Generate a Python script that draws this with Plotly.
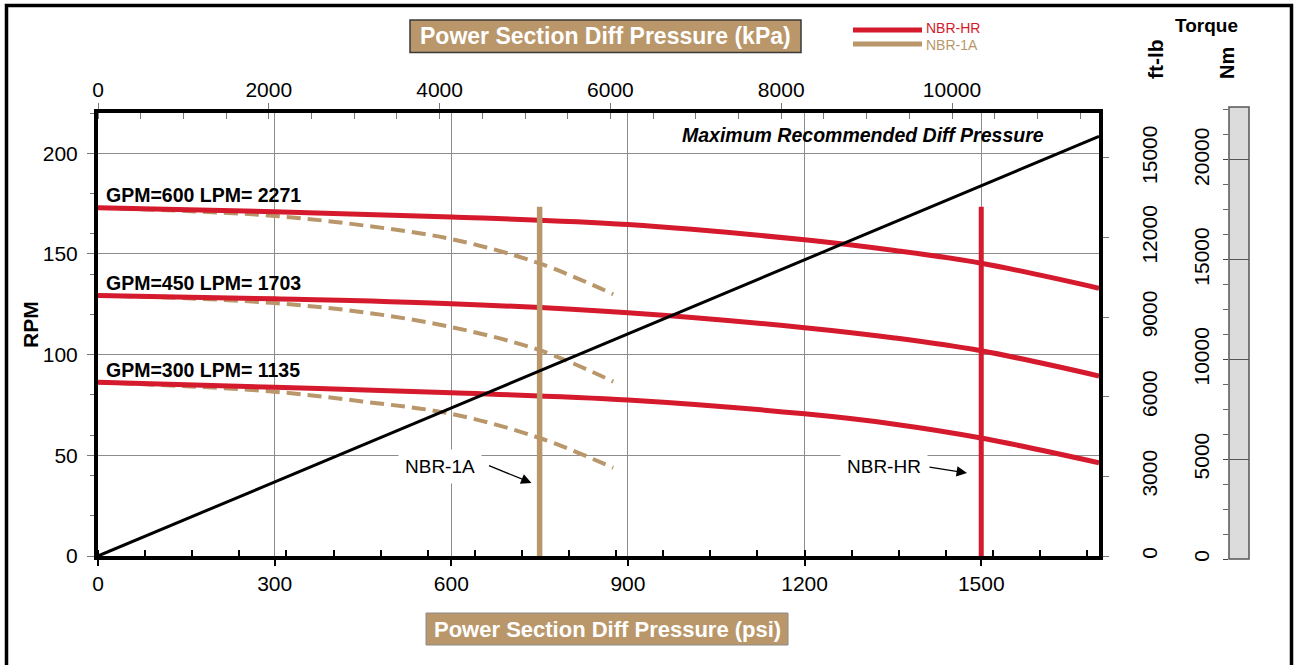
import plotly.graph_objects as go

W, H = 1296, 665

# ---------------- data ----------------
psi_hr = [0, 300, 600, 900, 1200, 1350, 1500, 1700]
rpm_hr_600 = [173.0, 171.0, 168.4, 164.6, 157.0, 151.8, 145.4, 133.0]
rpm_hr_450 = [129.4, 127.7, 125.3, 120.8, 113.4, 108.4, 101.9, 89.4]
rpm_hr_300 = [86.3, 83.8, 81.1, 77.5, 70.6, 65.6, 58.6, 46.3]

psi_1a = [0, 150, 300, 450, 600, 750, 875]
rpm_1a_600 = [173.0, 171.3, 168.9, 164.2, 157.4, 145.3, 130.0]
rpm_1a_450 = [129.4, 128.0, 125.6, 121.1, 113.7, 102.2, 86.6]
rpm_1a_300 = [86.3, 84.3, 81.6, 76.7, 70.6, 58.6, 43.8]

max_psi = [0, 1700]
max_rpm = [0, 208.4]

limit_1a_psi = 750
limit_hr_psi = 1500
limit_rpm = 173.5

flow_labels = ["GPM=600 LPM= 2271", "GPM=450 LPM= 1703", "GPM=300 LPM= 1135"]
flow_label_rpm = [179.5, 135.5, 92.5]

PSI_MAX = 1700
KPA_PER_PSI = 6.894757
RPM_MAX = 220
FTLB_MAX = 16690
NM_MAX = 22650

RED = "#D41A2C"
TAN = "#B9976A"
GRID = "#8C8C8C"
FONT = "Liberation Sans, Arial, sans-serif"


def px(x):
    return x / W


def py(y):
    return 1 - y / H


fig = go.Figure()

# dashed NBR-1A curves
for r in (rpm_1a_600, rpm_1a_450, rpm_1a_300):
    fig.add_trace(go.Scatter(x=psi_1a, y=r, mode="lines", line=dict(color=TAN, width=4, dash="14px,7px", shape="spline"),
                             name="NBR-1A", showlegend=False, hoverinfo="skip"))
# NBR-HR curves
for r in (rpm_hr_600, rpm_hr_450, rpm_hr_300):
    fig.add_trace(go.Scatter(x=psi_hr, y=r, mode="lines", line=dict(color=RED, width=5, shape="spline"),
                             name="NBR-HR", showlegend=False, hoverinfo="skip"))
# vertical limits
fig.add_trace(go.Scatter(x=[limit_1a_psi, limit_1a_psi], y=[0, limit_rpm], mode="lines",
                         line=dict(color=TAN, width=5.5), showlegend=False, hoverinfo="skip"))
fig.add_trace(go.Scatter(x=[limit_hr_psi, limit_hr_psi], y=[0, limit_rpm], mode="lines",
                         line=dict(color=RED, width=5), showlegend=False, hoverinfo="skip"))
# max recommended diff pressure line
fig.add_trace(go.Scatter(x=max_psi, y=max_rpm, mode="lines", line=dict(color="black", width=3),
                         showlegend=False, hoverinfo="skip"))

# dummy traces to activate the secondary axes
fig.add_trace(go.Scatter(x=[0], y=[0], xaxis="x2", yaxis="y", mode="markers", marker=dict(opacity=0),
                         showlegend=False, hoverinfo="skip"))
fig.add_trace(go.Scatter(x=[0], y=[0], xaxis="x", yaxis="y2", mode="markers", marker=dict(opacity=0),
                         showlegend=False, hoverinfo="skip"))
fig.add_trace(go.Scatter(x=[0.5], y=[0], xaxis="x3", yaxis="y3", mode="markers", marker=dict(opacity=0),
                         showlegend=False, hoverinfo="skip"))

plot_x0, plot_x1 = 98, 1099
plot_y0, plot_y1 = 113, 556   # top, bottom (px)
dom_x = [px(plot_x0), px(plot_x1)]
dom_y = [py(plot_y1), py(plot_y0)]

tickfont = dict(family=FONT, size=21, color="black")

fig.update_layout(
    width=W, height=H, autosize=False,
    margin=dict(l=0, r=0, t=0, b=0, pad=0, autoexpand=False),
    paper_bgcolor="white", plot_bgcolor="white",
    font=dict(family=FONT, color="black"),
    showlegend=False,
    xaxis=dict(domain=dom_x, range=[0, PSI_MAX], tick0=0, dtick=300, anchor="y", tickformat="d",
               showgrid=True, gridcolor=GRID, gridwidth=1, zeroline=False,
               showline=True, linecolor="black", linewidth=4,
               ticks="outside", ticklen=6, tickwidth=2, tickcolor="black", tickfont=tickfont,
               minor=dict(tick0=0, dtick=80, ticks="inside", ticklen=6, tickwidth=2, tickcolor="black", showgrid=False)),
    xaxis2=dict(overlaying="x", side="top", anchor="y", range=[0, PSI_MAX * KPA_PER_PSI], tick0=0, dtick=2000,
                tickformat="d",
                showgrid=False, zeroline=False, showline=True, linecolor="black", linewidth=4,
                ticks="outside", ticklen=6, tickwidth=1, tickcolor="#777", tickfont=tickfont,
                ticklabelstandoff=-2,
                minor=dict(tick0=0, dtick=500, ticks="inside", ticklen=6, tickwidth=1, tickcolor="#777", showgrid=False)),
    yaxis=dict(domain=dom_y, range=[0, RPM_MAX], tick0=0, dtick=50, anchor="x", tickformat="d",
               showgrid=True, gridcolor=GRID, gridwidth=1, zeroline=False,
               showline=True, linecolor="black", linewidth=4,
               ticks="outside", ticklen=7, tickwidth=1, tickcolor="#777", tickfont=tickfont,
               ticklabelstandoff=5,
               minor=dict(tick0=0, dtick=20, ticks="outside", ticklen=4, tickwidth=1, tickcolor="#777", showgrid=False)),
    yaxis2=dict(overlaying="y", side="right", anchor="x", range=[0, FTLB_MAX], tick0=0, dtick=3000, tickformat="d",
                showgrid=False, zeroline=False, showline=True, linecolor="black", linewidth=4,
                ticks="outside", ticklen=6, tickwidth=1, tickcolor="#777", tickfont=tickfont,
                tickangle=-90, ticklabelstandoff=23),
    xaxis3=dict(domain=[px(1229), px(1249)], anchor="y3", range=[0, 1], visible=False),
    yaxis3=dict(domain=[py(559), py(107)], anchor="x3", side="left", range=[0, NM_MAX], tick0=0, dtick=5000,
                tickformat="d",
                showgrid=True, gridcolor="#555", gridwidth=1, zeroline=False,
                showline=False,
                ticks="outside", ticklen=5, tickwidth=1, tickcolor="#444", tickfont=tickfont,
                tickangle=-90, ticklabelstandoff=6,
                minor=dict(tick0=0, dtick=1250, ticks="outside", ticklen=5, tickwidth=1, tickcolor="#666", showgrid=False)),
)

shapes = []
# Nm gauge bar
shapes.append(dict(type="rect", xref="paper", yref="paper", x0=px(1229), x1=px(1249), y0=py(559), y1=py(107),
                   fillcolor="#DCDCDC", line=dict(color="#555", width=1.5), layer="below"))
# outer frame
shapes.append(dict(type="rect", xref="paper", yref="paper", x0=px(6.5), x1=px(1291.5), y0=-0.05, y1=py(5.5),
                   fillcolor="rgba(0,0,0,0)", line=dict(color="black", width=3.5), layer="above"))
# axis title boxes
shapes.append(dict(type="rect", xref="paper", yref="paper", x0=px(410), x1=px(801), y0=py(52.5), y1=py(20),
                   fillcolor=TAN, line=dict(color="#3a3a3a", width=1.5)))
shapes.append(dict(type="rect", xref="paper", yref="paper", x0=px(426), x1=px(788), y0=py(645), y1=py(613),
                   fillcolor=TAN, line=dict(color="#8a8a8a", width=1)))
# legend samples
shapes.append(dict(type="line", xref="paper", yref="paper", x0=px(853), x1=px(922), y0=py(30), y1=py(30),
                   line=dict(color=RED, width=5)))
shapes.append(dict(type="line", xref="paper", yref="paper", x0=px(853), x1=px(922), y0=py(44), y1=py(44),
                   line=dict(color=TAN, width=5)))
fig.update_layout(shapes=shapes)

ann = []
ann.append(dict(xref="paper", yref="paper", x=px(605.5), y=py(36.5), text="<b>Power Section Diff Pressure (kPa)</b>",
                showarrow=False, font=dict(family=FONT, size=23, color="white"), xanchor="center", yanchor="middle"))
ann.append(dict(xref="paper", yref="paper", x=px(607), y=py(629), text="<b>Power Section Diff Pressure (psi)</b>",
                showarrow=False, font=dict(family=FONT, size=22, color="white"), xanchor="center", yanchor="middle"))
ann.append(dict(xref="paper", yref="paper", x=px(925), y=py(28.5), text="NBR-HR", showarrow=False,
                font=dict(family=FONT, size=14, color=RED), xanchor="left", yanchor="middle", borderpad=0))
ann.append(dict(xref="paper", yref="paper", x=px(925), y=py(45.5), text="NBR-1A", showarrow=False,
                font=dict(family=FONT, size=14, color=TAN), xanchor="left", yanchor="middle", borderpad=0))
ann.append(dict(xref="paper", yref="paper", x=px(1206), y=py(25), text="<b>Torque</b>", showarrow=False,
                font=dict(family=FONT, size=19), xanchor="center", yanchor="middle"))
ann.append(dict(xref="paper", yref="paper", x=px(1155), y=py(59), text="<b>ft-lb</b>", showarrow=False, textangle=-90,
                font=dict(family=FONT, size=21), xanchor="center", yanchor="middle"))
ann.append(dict(xref="paper", yref="paper", x=px(1227), y=py(63), text="<b>Nm</b>", showarrow=False, textangle=-90,
                font=dict(family=FONT, size=20), xanchor="center", yanchor="middle"))
ann.append(dict(xref="paper", yref="paper", x=px(30), y=py(325), text="<b>RPM</b>", showarrow=False, textangle=-90,
                font=dict(family=FONT, size=21), xanchor="center", yanchor="middle"))
ann.append(dict(xref="paper", yref="paper", x=px(862.5), y=py(135), text="<b><i>Maximum Recommended Diff Pressure</i></b>",
                showarrow=False, font=dict(family=FONT, size=19.5), xanchor="center", yanchor="middle"))
for lbl, r in zip(flow_labels, flow_label_rpm):
    ann.append(dict(xref="x", yref="y", x=0, y=r, xshift=6, text="<b>" + lbl + "</b>", showarrow=False,
                    font=dict(family=FONT, size=19.5), xanchor="left", yanchor="middle"))
# NBR labels with arrows
ann.append(dict(xref="paper", yref="paper", x=px(440), y=py(466), text="NBR-1A", showarrow=False, bgcolor="white",
                borderpad=6, font=dict(family=FONT, size=19), xanchor="center", yanchor="middle"))
ann.append(dict(xref="paper", yref="paper", x=px(884), y=py(466), text="NBR-HR", showarrow=False, bgcolor="white",
                borderpad=6, font=dict(family=FONT, size=19), xanchor="center", yanchor="middle"))
ann.append(dict(xref="paper", yref="paper", x=px(531.5), y=py(483), ax=-44, ay=-18, text="", showarrow=True,
                arrowhead=2, arrowsize=1.6, arrowwidth=1.3, arrowcolor="black"))
ann.append(dict(xref="paper", yref="paper", x=px(967), y=py(473), ax=-39, ay=-6, text="", showarrow=True,
                arrowhead=2, arrowsize=1.6, arrowwidth=1.3, arrowcolor="black"))
fig.update_layout(annotations=ann)

fig.write_html("out.html")
